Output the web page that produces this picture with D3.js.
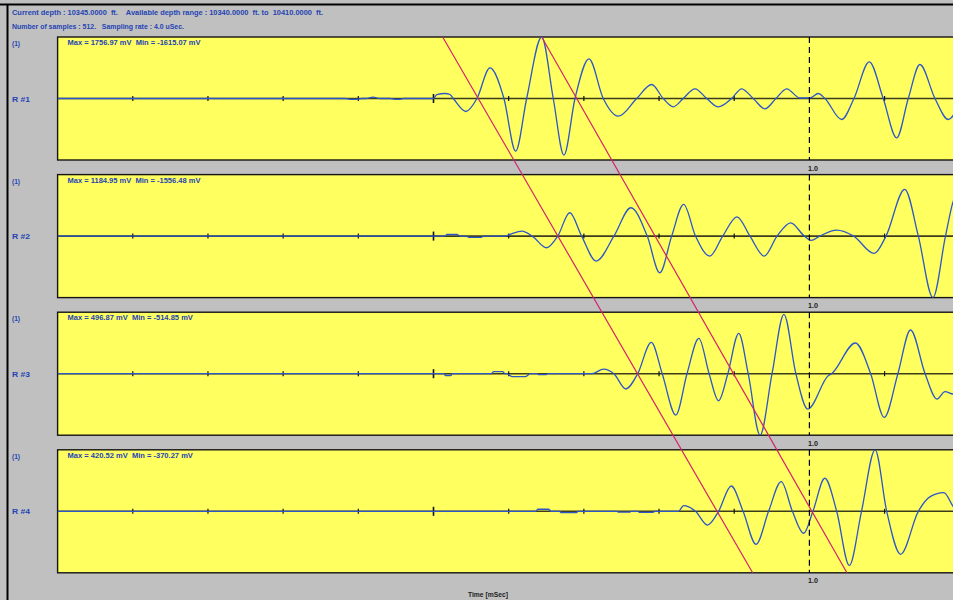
<!DOCTYPE html>
<html>
<head>
<meta charset="utf-8">
<script src="https://cdn.jsdelivr.net/npm/d3@7"></script>
<style>
  html, body { margin: 0; padding: 0; background: #c0c0c0; overflow: hidden; }
  text { font-family: "Liberation Sans", Arial, sans-serif; white-space: pre; font-weight: bold; }
</style>
</head>
<body>
<svg id="chart" width="953" height="600"></svg>
<script>
// ---- header information ----
const headerLines = [
  "Current depth : 10345.0000  ft.    Available depth range : 10340.0000  ft. to  10410.0000  ft.",
  "Number of samples : 512.   Sampling rate : 4.0 uSec."
];
const receiverLabels = ["R #1", "R #2", "R #3", "R #4"];
const channelLabel = "(1)";
const axisTitle = "Time [mSec]";

// time ticks along each trace (mSec); 0.5 is the major tick, 1.0 the dashed marker
const timeTicks = [0.1, 0.2, 0.3, 0.4, 0.5, 0.6, 0.7, 0.8, 0.9, 1.1];
const majorTick = 0.5;
const markerTime = 1.0;
const markerLabel = "1.0";

// ---- waveforms: [time mSec, amplitude mV] ----
const trace1 = [
  [0,0],[0.3823,0],[0.3889,-25],[0.3982,-25],[0.4049,0],[0.4102,0],[0.4195,40],[0.4288,0],
  [0.4421,0],[0.4488,-25],[0.4554,-25],[0.4607,0],[0.5000,0],
  [0.5043,114],[0.5153,143],[0.5219,114],[0.5263,0],[0.5432,-371],[0.5578,0],[0.5751,877],
  [0.5937,0],[0.6093,-1506],[0.6239,0],[0.6439,1756.97],[0.6593,0],[0.6735,-1615.07],[0.6882,0],
  [0.7068,1134],[0.7258,0],[0.7458,-506],[0.7703,0],[0.7902,400],[0.8056,0],[0.8189,-237],
  [0.8322,0],[0.8478,277],[0.8634,0],[0.8788,-237],[0.8966,0],[0.9099,277],[0.9253,0],
  [0.9408,-294],[0.9555,0],[0.9697,277],[0.9874,14],[1.0008,14],[1.0118,143],[1.0207,0],
  [1.0429,-600],[1.0593,0],[1.0796,1049],[1.0982,0],[1.1161,-1123],[1.1315,0],[1.1470,971],
  [1.1670,0],[1.1847,-600],[1.2002,-143]
];
const trace2 = [
  [0,0],[0.5153,0],[0.5179,40],[0.5312,40],[0.5352,0],[0.5432,0],[0.5472,-33],[0.5632,-33],
  [0.5672,0],[0.5950,0],
  [0.6018,43],[0.6177,127],[0.6313,0],[0.6503,-295],[0.6653,0],[0.6812,591],[0.6970,0],
  [0.7164,-633],[0.7400,0],[0.7626,717],[0.7843,0],[0.8010,-928],[0.8168,0],[0.8327,802],
  [0.8485,0],[0.8675,-506],[0.8847,0],[0.9037,489],[0.9209,0],[0.9399,-506],[0.9570,0],
  [0.9751,337],[0.9932,0],[1.0023,-110],[1.0137,0],[1.0363,152],[1.0589,0],[1.0861,-439],
  [1.1019,0],[1.1268,1184.95],[1.1449,0],[1.1643,-1556.48],[1.1810,0],[1.1914,886],[1.2003,1150]
];
const trace3 = [
  [0,0],[0.5137,0],[0.5160,-15],[0.5230,-15],[0.5250,0],[0.5770,0],[0.5800,17],[0.5920,17],
  [0.5951,0],[0.5974,0],[0.6050,-25],[0.6220,-25],[0.6290,0],[0.6381,0],[0.6400,-8],[0.6500,-8],
  [0.6518,0],[0.7106,0],
  [0.7264,39],[0.7400,0],[0.7558,-128],[0.7716,0],[0.7897,262],[0.8042,0],[0.8223,-346],
  [0.8372,0],[0.8530,296],[0.8666,0],[0.8792,-226],[0.8915,0],[0.9060,338],[0.9186,0],
  [0.9344,-514.85],[0.9503,0],[0.9661,496.87],[0.9820,0],[0.9979,-296],[1.0250,-17],[1.0295,0],
  [1.0612,257],[1.0815,0],[1.0996,-366],[1.1177,0],[1.1345,366],[1.1539,0],[1.1697,-212],
  [1.1804,-150],[1.1914,-170],[1.2003,-120]
];
const trace4 = [
  [0,0],[0.6358,0],[0.6390,14],[0.6530,14],[0.6563,0],[0.6676,0],[0.6700,-9],[0.6900,-9],
  [0.6922,0],[0.7441,0],[0.7460,-6],[0.7610,-6],[0.7627,0],[0.7716,0],[0.7740,-8],[0.7920,-8],
  [0.7942,0],[0.8259,0],
  [0.8327,39],[0.8485,0],[0.8643,-94],[0.8792,0],[0.8960,173],[0.9118,0],[0.9291,-226],
  [0.9457,0],[0.9625,203],[0.9774,0],[0.9924,-150],[1.0047,0],[1.0205,226],[1.0363,0],
  [1.0531,-370.27],[1.0693,0],[1.0874,420.52],[1.1028,0],[1.1213,-294],[1.1449,0],
  [1.1607,100],[1.1788,128],[1.1914,32],[1.2003,-20]
];
const traces = [trace1, trace2, trace3, trace4];

// moveout picks: arrival time at the first receiver (top) and at the last receiver (bottom)
const moveoutTop = [0.5122, 0.6439];
const moveoutBottom = [0.9245, 1.0499];

// ---- layout ----
const W = 953, H = 600;
const plotLeft = 57.6, pxPerMs = 751.8;
const panelTop0 = 37, panelPitch = 137.6, panelH = 123;

const svg = d3.select("#chart");
const x = d3.scaleLinear().domain([0, 1.2]).range([plotLeft, plotLeft + 1.2 * pxPerMs]);
const panelY = d3.scaleLinear().domain([0, 1]).range([panelTop0, panelTop0 + panelPitch]);

const textColor = "#2444b4";
const waveColor = "#2d56c8";
const moveColor = "#d4226c";

// window frame
svg.append("rect").attr("x", 0).attr("y", 0).attr("width", W).attr("height", H).attr("fill", "#c0c0c0");
svg.append("line").attr("x1", 0).attr("x2", W).attr("y1", 4.5).attr("y2", 4.5)
  .attr("stroke", "#000").attr("stroke-width", 2);
svg.append("line").attr("x1", 7.5).attr("x2", 7.5).attr("y1", 4).attr("y2", H)
  .attr("stroke", "#000").attr("stroke-width", 2);

// header text
const headerWidths = [311, 172];
headerLines.forEach((s, i) => {
  svg.append("text").attr("x", 12).attr("y", 14.5 + i * 14.5)
    .attr("font-size", 8).attr("fill", textColor)
    .attr("textLength", headerWidths[i]).attr("lengthAdjust", "spacingAndGlyphs")
    .text(s);
});

const fmt = v => v.toFixed(2);
const line = d3.line().curve(d3.curveMonotoneX);

traces.forEach((tr, i) => {
  const top = panelY(i);
  const bottom = top + panelH;
  const vals = tr.map(d => d[1]);
  const vMax = d3.max(vals), vMin = d3.min(vals);
  const A = Math.max(Math.abs(vMax), Math.abs(vMin));
  const y = d3.scaleLinear().domain([-A, A]).range([bottom, top]);
  const yc = y(0);

  const g = svg.append("g");
  const clipId = "clip" + i;
  svg.append("clipPath").attr("id", clipId).append("rect")
    .attr("x", x(0)).attr("y", top).attr("width", x(1.2) - x(0)).attr("height", panelH);

  // panel background and border
  g.append("rect").attr("x", x(0)).attr("y", top).attr("width", x(1.2) - x(0) + 5).attr("height", panelH)
    .attr("fill", "#ffff60").attr("stroke", "#151515").attr("stroke-width", 1.4);

  // zero line
  g.append("line").attr("x1", x(0)).attr("x2", x(1.2)).attr("y1", yc).attr("y2", yc)
    .attr("stroke", "#1a1a10").attr("stroke-width", 1.6).attr("stroke-opacity", 0.85);

  // time ticks
  g.selectAll(".tick").data(timeTicks).enter().append("line")
    .attr("x1", d => x(d)).attr("x2", d => x(d))
    .attr("y1", d => yc - (d === majorTick ? 4.5 : 2.5))
    .attr("y2", d => yc + (d === majorTick ? 4.5 : 2.5))
    .attr("stroke", "#111").attr("stroke-width", d => d === majorTick ? 1.6 : 1.2);

  // waveform
  g.append("path").datum(tr)
    .attr("clip-path", `url(#${clipId})`)
    .attr("d", line.x(d => x(d[0])).y(d => y(d[1])))
    .attr("fill", "none").attr("stroke", waveColor).attr("stroke-width", 1.3);

  // 1.0 mSec marker
  g.append("line").attr("x1", x(markerTime)).attr("x2", x(markerTime)).attr("y1", top).attr("y2", bottom)
    .attr("stroke", "#000").attr("stroke-width", 1.2).attr("stroke-dasharray", "6,4");
  g.append("text").attr("x", x(markerTime) - 1.5).attr("y", bottom + 10.5)
    .attr("font-size", 8).attr("fill", "#222").attr("textLength", 10).attr("lengthAdjust", "spacingAndGlyphs")
    .text(markerLabel);

  // labels
  g.append("text").attr("x", 12).attr("y", top + 9)
    .attr("font-size", 8).attr("fill", textColor).attr("textLength", 8).attr("lengthAdjust", "spacingAndGlyphs")
    .text(channelLabel);
  g.append("text").attr("x", 12).attr("y", yc + 3)
    .attr("font-size", 8).attr("fill", textColor).attr("textLength", 18).attr("lengthAdjust", "spacingAndGlyphs")
    .text(receiverLabels[i]);
  const mm = `Max = ${fmt(vMax)} mV  Min = ${fmt(vMin)} mV`;
  g.append("text").attr("x", 67.5).attr("y", top + 8)
    .attr("font-size", 8).attr("fill", textColor)
    .attr("textLength", mm.length * 3.8).attr("lengthAdjust", "spacingAndGlyphs")
    .text(mm);
});

// moveout lines spanning all receivers
const yTop = panelY(0), yBottom = panelY(3) + panelH;
moveoutTop.forEach((t0, k) => {
  svg.append("line")
    .attr("x1", x(t0)).attr("y1", yTop)
    .attr("x2", x(moveoutBottom[k])).attr("y2", yBottom)
    .attr("stroke", moveColor).attr("stroke-width", 1.2);
});

// axis title
svg.append("text").attr("x", 488).attr("y", 597).attr("text-anchor", "middle")
  .attr("font-size", 8).attr("fill", "#222").attr("textLength", 40).attr("lengthAdjust", "spacingAndGlyphs")
  .text(axisTitle);
</script>
</body>
</html>
